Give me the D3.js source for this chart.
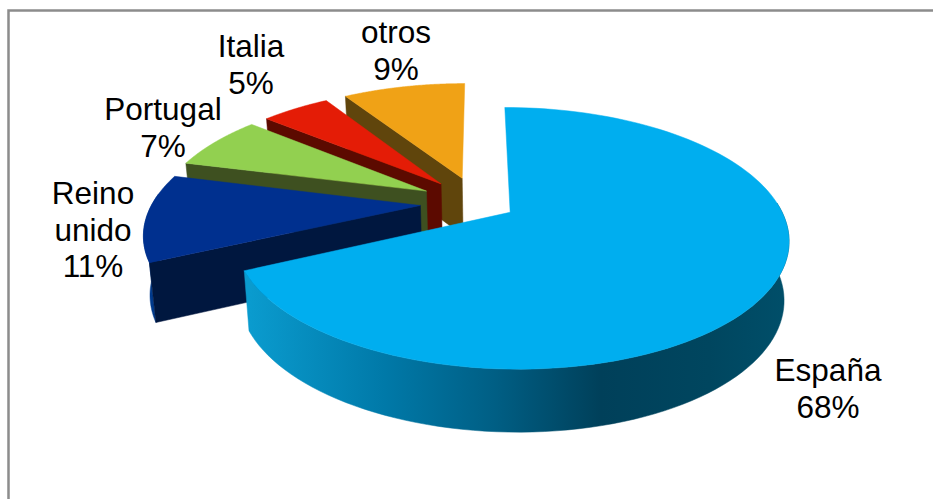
<!DOCTYPE html>
<html><head><meta charset="utf-8">
<style>html,body{margin:0;padding:0;background:#fff}svg{display:block}text{font-family:"Liberation Sans",Arial,sans-serif;fill:#000}</style>
<script src="https://cdn.jsdelivr.net/npm/d3@7"></script>
</head><body>
<script>
const categories=["España","Reino unido","Portugal","Italia","otros"];
const shares=[68,11,7,5,9];
const labelLines=[["España","68%"],["Reino","unido","11%"],["Portugal","7%"],["Italia","5%"],["otros","9%"]];
const topColors=["#00aeef","#00308f","#92d050","#e41c06","#f0a216"];
const wallColors=["#004a66","#00173f","#3e5020","#5c0a00","#60450c"];
const arcColors=["url(#sideBlue)","#003a8c","#3e5020","#5c0a00","#60450c"];
const explode=[0.14,0.215,0.22,0.215,0.22];
const labelPos=[[828,381],[93,204],[163,120],[251,57],[396,43]];
const lineGap=36.5;

const W=933,H=499;
const svg=d3.select("body").append("svg").attr("width",W).attr("height",H);
const defs=svg.append("defs");
const grad=defs.append("linearGradient").attr("id","sideBlue").attr("gradientUnits","userSpaceOnUse")
  .attr("x1",250).attr("x2",790).attr("y1",0).attr("y2",0);
[[0,"#0a9bce"],[0.25,"#0079a8"],[0.45,"#005f85"],[0.65,"#00405a"],[0.85,"#00465f"],[1,"#004f6a"]]
  .forEach(s=>grad.append("stop").attr("offset",s[0]).attr("stop-color",s[1]));

svg.append("path").attr("d","M8.5,500V10.5H933").attr("fill","none").attr("stroke","#8c8c8c").attr("stroke-width",2.5);

// Perspective projection of the pie plane
const C={x:478,y:203},A=268,B=122,K=0.196,Z=58,VX=510,VC=0.018;
const sx=d3.scaleLinear().domain([0,1]).range([C.x,C.x+A]);
const sy=d3.scaleLinear().domain([0,1]).range([C.y,C.y+B]);
function proj(u,v,z){
  const w=1-K*v;
  const x=sx(u/w), y=sy(v/w);
  return z?[x+(VX-x)*VC, y+Z/Math.pow(w,0.35)]:[x,y];
}
const pie=d3.pie().sort(null).startAngle(0).endAngle(2*Math.PI).value(d=>d);
const arcs=pie(shares);
const line=d3.line();
const g=svg.append("g");
const order=[4,3,2,1,0];
order.forEach(i=>{
  const a=arcs[i],e=explode[i],mid=(a.startAngle+a.endAngle)/2;
  const ox=e*Math.sin(mid),oy=-e*Math.cos(mid);
  const rim=t=>[ox+Math.sin(t),oy-Math.cos(t)];
  const ts=d3.range(0,121).map(j=>a.startAngle+(a.endAngle-a.startAngle)*j/120);
  const topRim=ts.map(t=>proj(...rim(t),false));
  // outer wall: only the part of the rim that faces the viewer
  const front=ts.filter(t=>Math.cos(t)<0.1);
  if(front.length>1){
    const up=front.map(t=>proj(...rim(t),false));
    const dn=front.map(t=>proj(...rim(t),true));
    g.append("path").attr("d",line(up.concat(dn.slice().reverse()))+"Z")
      .attr("fill",arcColors[i]).attr("stroke",arcColors[i]).attr("stroke-width",0.5);
  }
  // cut wall at the start edge (faces the viewer for exploded slices)
  if(i>0){
    const s=rim(a.startAngle);
    g.append("path").attr("d",line([proj(ox,oy,false),proj(...s,false),proj(...s,true),proj(ox,oy,true)])+"Z")
      .attr("fill",wallColors[i]).attr("stroke",wallColors[i]).attr("stroke-width",0.5);
  }
  // top face
  g.append("path").attr("d",line([proj(ox,oy,false)].concat(topRim))+"Z")
    .attr("fill",topColors[i]).attr("stroke",topColors[i]).attr("stroke-width",0.5);
});
labelLines.forEach((ls,i)=>{
  const t=svg.append("text").attr("text-anchor","middle").attr("font-size",31.5);
  ls.forEach((l,j)=>t.append("tspan").attr("x",labelPos[i][0]).attr("y",labelPos[i][1]+j*lineGap).text(l));
});
</script>
</body></html>
